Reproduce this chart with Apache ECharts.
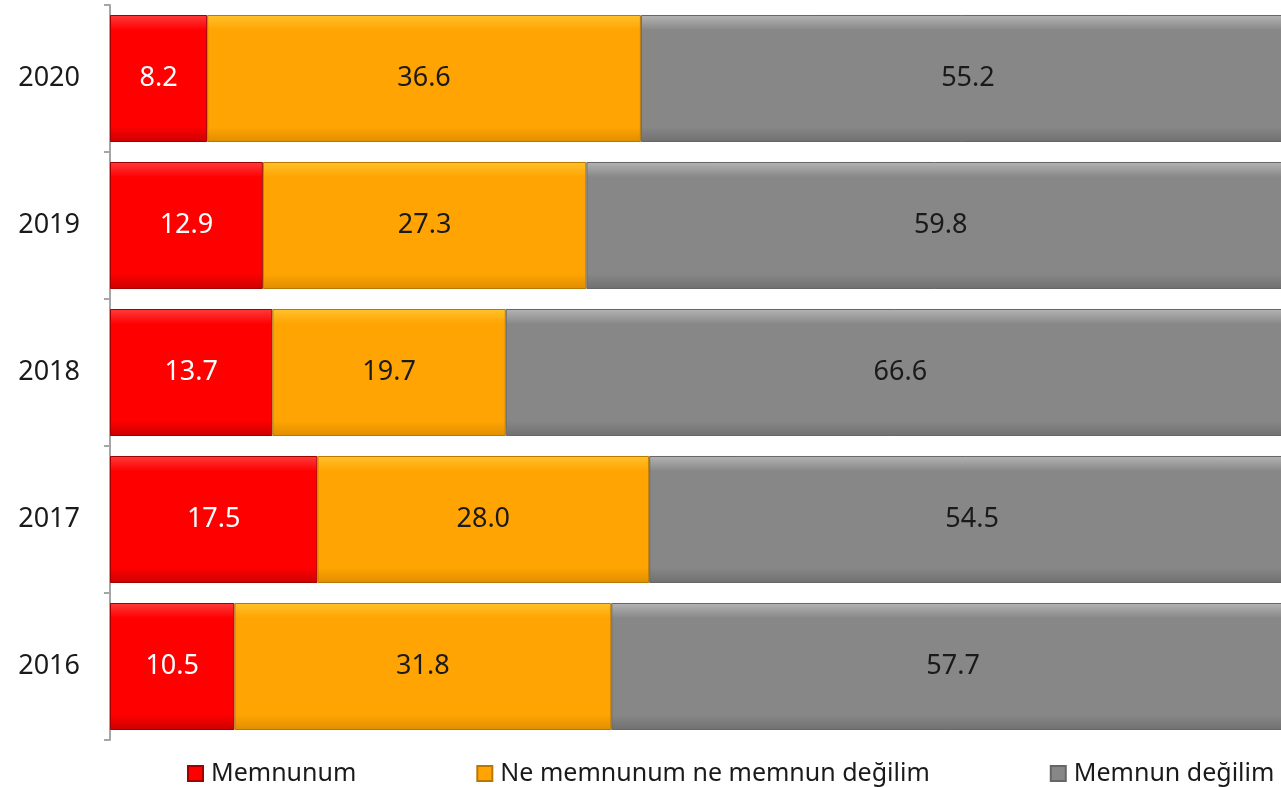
<!DOCTYPE html>
<html>
<head>
<meta charset="utf-8">
<script src="https://cdn.jsdelivr.net/npm/echarts@6/dist/echarts.min.js"></script>
<style>
  html, body { margin: 0; padding: 0; background: #fff; }
  #chart { width: 1281px; height: 787px; }
</style>
</head>
<body>
<div id="chart"></div>
<script>
// yıllar (alttan üste)
const years = ['2016', '2017', '2018', '2019', '2020'];
const memnunum = [10.5, 17.5, 13.7, 12.9, 8.2];
const neNe = [31.8, 28.0, 19.7, 27.3, 36.6];
const memnunDegilim = [57.7, 54.5, 66.6, 59.8, 55.2];
const seriesNames = ['Memnunum', 'Ne memnunum ne memnun değilim', 'Memnun değilim'];

const font = '"Noto Sans", "Open Sans", sans-serif';

// bevel benzeri görünüm için dikey gradyan
function grad(top, mid, bottom) {
  return new echarts.graphic.LinearGradient(0, 0, 0, 1, [
    { offset: 0, color: top },
    { offset: 0.12, color: mid },
    { offset: 0.88, color: mid },
    { offset: 1, color: bottom }
  ]);
}

const styles = [
  { color: grad('#ff3b3b', '#fe0000', '#cc0000'), border: '#a00000', label: '#ffffff' },
  { color: grad('#ffc22a', '#ffa402', '#e08e00'), border: '#b87800', label: '#1a1a1a' },
  { color: grad('#b4b4b4', '#878787', '#707070'), border: '#666666', label: '#1a1a1a' }
];

const chart = echarts.init(document.getElementById('chart'));

const option = {
  animation: false,
  // sağ kenar resimde kırpılmış, 100 değeri çerçevenin dışına düşüyor
  grid: { left: 110, right: -14, top: 5, bottom: 47, outerBoundsMode: 'none' },
  xAxis: {
    type: 'value', min: 0, max: 100,
    show: false
  },
  yAxis: {
    type: 'category',
    data: years,
    axisLine: { show: true, lineStyle: { color: '#a6a6a6', width: 2 } },
    axisTick: { show: true, length: 6, lineStyle: { color: '#a6a6a6', width: 2 } },
    axisLabel: { color: '#1a1a1a', fontSize: 27, fontFamily: font, margin: 30 }
  },
  legend: {
    left: 182, top: 756,
    itemWidth: 15, itemHeight: 15, itemGap: 120,
    icon: 'rect',
    textStyle: { fontSize: 25, color: '#1a1a1a', fontFamily: font, padding: [0, 0, 0, 3] },
    data: seriesNames
  },
  series: [memnunum, neNe, memnunDegilim].map((vals, i) => ({
    name: seriesNames[i],
    type: 'bar',
    stack: 'total',
    barCategoryGap: '13.6%',
    data: vals,
    itemStyle: {
      color: styles[i].color,
      borderColor: styles[i].border,
      borderWidth: 1
    },
    label: {
      show: true,
      position: 'inside',
      color: styles[i].label,
      fontSize: 27,
      fontFamily: font,
      formatter: p => p.value.toFixed(1)
    }
  }))
};

chart.setOption(option);
</script>
</body>
</html>
